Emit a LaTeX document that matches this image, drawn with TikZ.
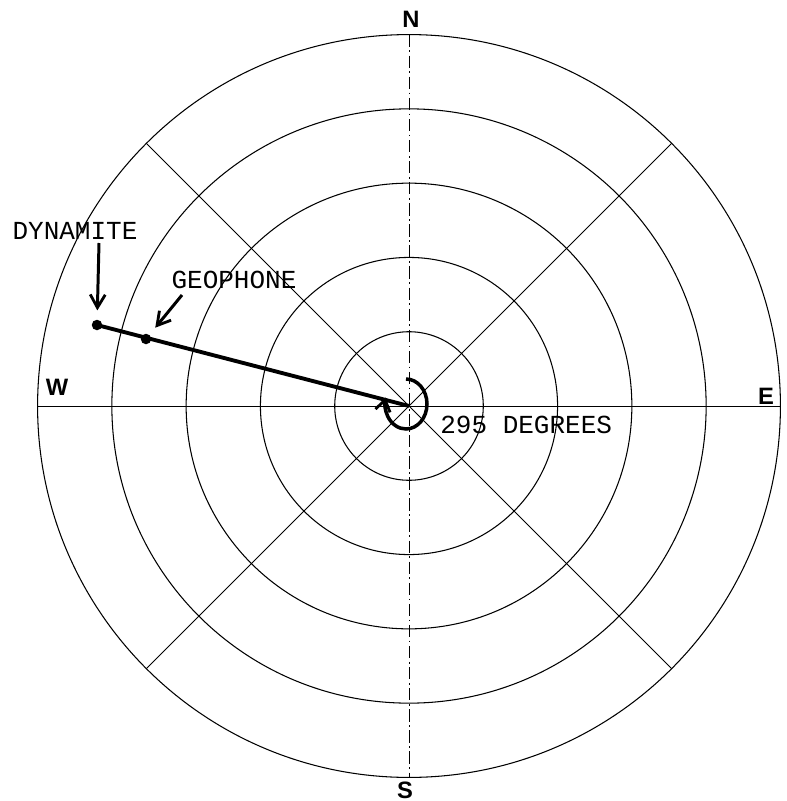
\documentclass[tikz,border=0pt]{standalone}
\usepackage{fontspec}
\usetikzlibrary{arrows.meta,positioning}
\newfontfamily\typefont{Liberation Mono}
\newfontfamily\compassfont{Liberation Sans}
\tikzset{
  ring/.style={draw=black,line width=0.6pt},
  spoke/.style={draw=black,line width=0.55pt},
  meridian/.style={draw=black,line width=0.5pt,dash pattern=on 7pt off 2pt on 1pt off 2pt},
  shot/.style={draw=black,line width=2.2pt},
  pointer/.style={-{Straight Barb[length=2.6mm,width=3mm,line width=1.6pt]},line width=1.7pt,shorten >=1.8mm},
  curl/.style={-{Straight Barb[length=2.2mm,width=3mm,line width=1.6pt]},line width=2pt},
  dot/.style={circle,fill=black,inner sep=0pt,minimum size=2.1mm},
  compass/.style={font=\compassfont\bfseries\fontsize{13.5}{14}\selectfont,inner sep=0pt},
  tag/.style={font=\typefont\fontsize{14.8}{16}\selectfont,inner sep=0pt},
}
\begin{document}
\begin{tikzpicture}[x=0.02cm,y=-0.02cm]
  \useasboundingbox (0,0) rectangle (787,801);
  \coordinate (hub) at (409,406);

  % rings and spokes
  \foreach \r in {1,...,5}
    \draw[ring] (hub) circle[radius=\r*1.486cm];
  \draw[spoke] ([xshift=-7.43cm]hub) -- ([xshift=7.43cm]hub);
  \draw[meridian] ([yshift=7.43cm]hub) -- ([yshift=-7.43cm]hub);
  \draw[spoke] (hub) ++(45:7.43cm) -- ++(225:14.86cm);
  \draw[spoke] (hub) ++(135:7.43cm) -- ++(315:14.86cm);

  % compass points
  \node[compass] (north) at (411,19) {N};
  \node[compass] (south) at (405,790) {S};
  \node[compass] (west) at (57,387) {W};
  \node[compass] (east) at (766,396) {E};

  % shot line
  \node[dot] (dynamite) at (97,325) {};
  \node[dot] (geophone) at (146,339) {};
  \draw[shot] (dynamite.center) -- (hub);

  \node[tag] (dynlabel) at (75,231) {DYNAMITE};
  \node[tag] (geolabel) at (234,280) {GEOPHONE};
  \coordinate (dyntail) at (99,243);
  \coordinate (geotail) at (182,295);
  \draw[pointer] (dyntail) -- (dynamite);
  \draw[pointer] (geotail) -- (geophone);

  % azimuth
  \draw[curl] (406,379) arc[start angle=90,end angle=-195,x radius=0.42cm,y radius=0.5cm];
  \node[tag,anchor=west] (azimuth) at (440,425) {295 DEGREES};
\end{tikzpicture}
\end{document}
